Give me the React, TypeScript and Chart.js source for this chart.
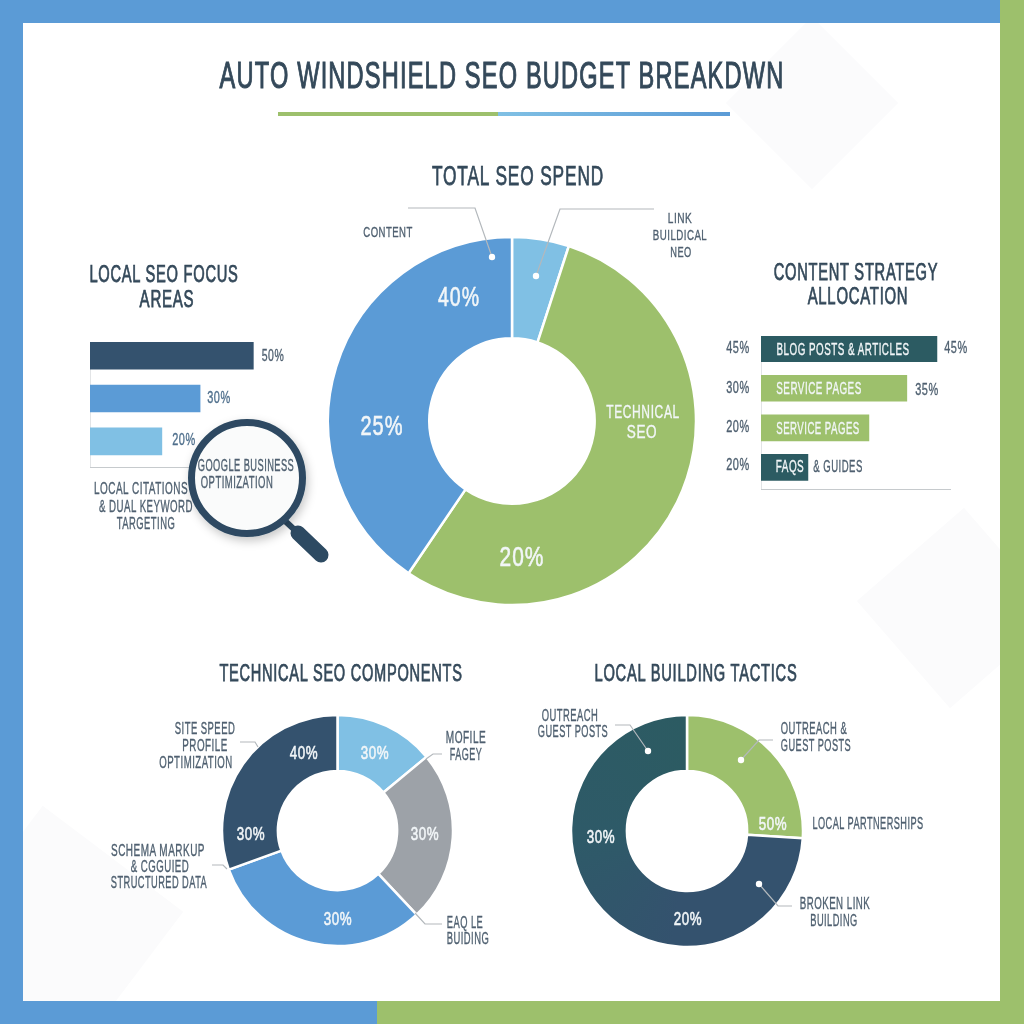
import React, { useEffect, useRef } from "react";
import { Chart, registerables } from "chart.js";

Chart.register(...registerables);

// ---------- data ----------
const spendCategories = ["Link Building", "Technical SEO", "Content"];
const spendShares = [5, 54.5, 40.5];

const technicalCategories = ["Mobile", "FAQ", "Schema Markup", "Site Speed"];
const technicalShares = [14, 24, 31.5, 30.5];

const tacticCategories = ["Outreach & Guest Posts", "Broken Link & Outreach"];
const tacticShares = [26, 74];

const focusCategories = ["Google Business", "Local Citations", "Keyword Targeting"];
const focusBars = [50, 33.7, 22];

const strategyCategories = ["Blog Posts & Articles", "Service Pages", "Service Pages 2", "FAQs & Guides"];
const strategyBars = [45, 37.3, 27.6, 12];

// ---------- palette ----------
const BLUE = "#5b9bd6";
const LIGHT = "#80c0e4";
const GREEN = "#9dc06c";
const NAVY = "#34526e";
const TEAL = "#2c5b62";
const GRAY = "#9da2a8";
const DARK = "#34495a";
const MID = "#4f6070";
const WHITE = "#f2f6f8";
const LINE = "#b3b8bc";

// ---------- text: string, left, right, centre y, font size, colour, stroke ----------
type T = [string, number, number, number, number, string, number?];
const H1 = 1.05;
const H2 = 0.75;
const PCT = 0.6;
const SM = 0.35;
const lowerTexts: T[] = [
  ["AUTO WINDSHIELD SEO BUDGET BREAKDWN", 220, 784, 75, 37, DARK, H1],
  ["TOTAL SEO SPEND", 432, 604, 176, 27, DARK, H2],
  ["CONTENT", 363, 412, 232, 15.5, MID, SM],
  ["LINK", 668, 692, 217.5, 15.5, MID, SM],
  ["BUILDICAL", 653, 707, 235, 15.5, MID, SM],
  ["NEO", 670, 691, 252, 15.5, MID, SM],
  ["40%", 438, 479, 297, 27, WHITE, PCT],
  ["25%", 361, 403, 426, 27, WHITE, PCT],
  ["TECHNICAL", 606, 679, 412, 18, WHITE, SM],
  ["SEO", 627, 657, 432, 18, WHITE, SM],
  ["20%", 500, 544, 557, 27, WHITE, PCT],
  ["LOCAL SEO FOCUS", 89, 238, 274, 23, DARK, H2],
  ["AREAS", 140, 194, 299, 23, DARK, H2],
  ["50%", 262, 284, 356, 16, MID, SM],
  ["30%", 207, 230, 398, 16, "#4f6f8c", SM],
  ["20%", 172, 195, 440, 16, "#4f6f8c", SM],
  ["LOCAL CITATIONS", 94, 188, 489, 16, MID, SM],
  ["& DUAL KEYWORD", 99, 193, 507, 16, MID, SM],
  ["TARGETING", 117, 175, 524, 16, MID, SM],
  ["CONTENT STRATEGY", 774, 938, 272, 23, DARK, H2],
  ["ALLOCATION", 808, 908, 296, 23, DARK, H2],
  ["45%", 726, 749, 348, 16, MID, SM],
  ["30%", 726, 749, 388, 16, MID, SM],
  ["20%", 726, 749, 427, 16, MID, SM],
  ["20%", 726, 749, 465, 16, MID, SM],
  ["45%", 944, 967, 348, 16, MID, SM],
  ["35%", 915, 938, 390, 16, MID, SM],
  ["BLOG POSTS & ARTICLES", 776, 909, 349.5, 16, WHITE, SM],
  ["SERVICE PAGES", 776, 861, 389, 16, WHITE, SM],
  ["SERVICE PAGES", 776, 859, 429, 16, WHITE, SM],
  ["FAQS", 776, 804, 467, 16, WHITE, SM],
  ["& GUIDES", 813, 862, 467, 16, MID, SM],
  ["TECHNICAL SEO COMPONENTS", 219, 462, 673, 23, DARK, H2],
  ["SITE SPEED", 175, 235, 729, 16, MID, SM],
  ["PROFILE", 182, 227, 746, 16, MID, SM],
  ["OPTIMIZATION", 159, 232, 763, 16, MID, SM],
  ["MOFILE", 446, 486, 738, 16, MID, SM],
  ["FAGEY", 450, 482, 755, 16, MID, SM],
  ["SCHEMA MARKUP", 111, 205, 851, 16, MID, SM],
  ["& CGGUIED", 131, 189, 867, 16, MID, SM],
  ["STRUCTURED DATA", 111, 207, 883, 16, MID, SM],
  ["EAQ LE", 447, 483, 923, 16, MID, SM],
  ["BUIDING", 447, 489, 939, 16, MID, SM],
  ["30%", 361, 389, 752, 19, WHITE, PCT],
  ["40%", 290, 318, 752, 19, WHITE, PCT],
  ["30%", 411, 439, 833, 19, WHITE, PCT],
  ["30%", 237, 265, 833, 19, WHITE, PCT],
  ["30%", 324, 352, 918, 19, WHITE, PCT],
  ["LOCAL BUILDING TACTICS", 594, 797, 673, 23, DARK, H2],
  ["OUTREACH", 542, 598, 716, 16, MID, SM],
  ["GUEST POSTS", 538, 608, 732, 16, MID, SM],
  ["OUTREACH &", 781, 847, 729, 16, MID, SM],
  ["GUEST POSTS", 781, 851, 746, 16, MID, SM],
  ["LOCAL PARTNERSHIPS", 812, 923, 824, 16, MID, SM],
  ["BROKEN LINK", 800, 870, 904, 16, MID, SM],
  ["BUILDING", 810, 857, 921, 16, MID, SM],
  ["50%", 759, 787, 823, 19, WHITE, PCT],
  ["30%", 587, 615, 836, 19, WHITE, PCT],
  ["20%", 674, 702, 918, 19, WHITE, PCT],
];
const lensTexts: T[] = [
  ["GOOGLE BUSINESS", 198, 294, 466, 16, MID, SM],
  ["OPTIMIZATION", 201, 273, 483, 16, MID, SM],
];

const leaders: number[][] = [
  [408, 208, 475, 208, 492, 257],
  [654, 209, 560, 209, 536, 276],
  [240, 742, 255, 742, 258, 747],
  [442, 754, 433, 754, 426, 759],
  [415, 913, 425, 924, 442, 924],
  [212, 865, 223, 865, 227, 869],
  [615, 725, 630, 725, 648, 751],
  [773, 740, 759, 740, 741, 760],
  [759, 884, 778, 906, 792, 906],
];
const dots: number[][] = [
  [492, 257], [536, 276], [648, 751], [741, 760], [759, 884],
];

const FONT = '"Liberation Sans Narrow", "Liberation Sans", sans-serif';
const SPACING = 0.05;
const measurer = document.createElement("canvas").getContext("2d")!;

function Label({ t }: { t: T }) {
  const [text, x0, x1, cy, size, color, stroke = 0] = t;
  measurer.font = `400 ${size}px ${FONT}`;
  const natural = measurer.measureText(text).width + SPACING * size * (text.length - 1);
  const s = (x1 - x0) / natural;
  return (
    <span
      style={{
        position: "absolute",
        left: (x0 + x1) / 2,
        top: cy,
        transform: `translate(-50%,-50%) scaleX(${s})`,
        font: `400 ${size}px/1 ${FONT}`,
        letterSpacing: `${SPACING * size}px`,
        marginRight: `${-SPACING * size}px`,
        WebkitTextStroke: `${stroke}px ${color}`,
        color,
        whiteSpace: "nowrap",
      }}
    >
      {text}
    </span>
  );
}

function Donut({
  cx, cy, r, inner, labels, values, colors, conic,
}: {
  cx: number; cy: number; r: number; inner: number; labels: string[]; values: number[]; colors: string[];
  conic?: boolean;
}) {
  const ref = useRef<HTMLCanvasElement>(null);
  const size = 2 * r + 6;
  useEffect(() => {
    const canvas = ref.current!;
    const ctx = canvas.getContext("2d")!;
    const fills: (string | CanvasGradient)[] = [...colors];
    if (conic) {
      const g = ctx.createConicGradient(-Math.PI / 2, size / 2, size / 2);
      g.addColorStop(0, TEAL);
      g.addColorStop(0.25, NAVY);
      g.addColorStop(0.52, NAVY);
      g.addColorStop(0.74, "#2e5a68");
      g.addColorStop(1, TEAL);
      fills[fills.length - 1] = g;
    }
    const chart = new Chart(canvas, {
      type: "doughnut",
      data: { labels, datasets: [{ data: values, backgroundColor: fills as any, borderColor: "#ffffff", borderWidth: 2.5 }] },
      options: {
        animation: false,
        responsive: false,
        radius: r + 1,
        cutout: inner - 1,
        layout: { padding: 0 },
        plugins: { legend: { display: false }, tooltip: { enabled: false } },
      } as any,
    });
    return () => chart.destroy();
  }, []);
  return (
    <canvas
      ref={ref}
      width={size}
      height={size}
      style={{ position: "absolute", left: cx - size / 2, top: cy - size / 2, width: size, height: size }}
    />
  );
}

function Bars({
  left, top, width, height, max, yMin, yMax, thickness, labels, values, colors,
}: {
  left: number; top: number; width: number; height: number; max: number; yMin: number; yMax: number; thickness: number;
  labels: string[]; values: number[]; colors: string[];
}) {
  const ref = useRef<HTMLCanvasElement>(null);
  useEffect(() => {
    const chart = new Chart(ref.current!, {
      type: "bar",
      data: {
        labels,
        datasets: [{ data: values.map((v, i) => ({ x: v, y: i })), backgroundColor: colors, barThickness: thickness }],
      },
      options: {
        indexAxis: "y",
        animation: false,
        responsive: false,
        layout: { padding: 0 },
        plugins: { legend: { display: false }, tooltip: { enabled: false } },
        scales: {
          x: {
            type: "linear", min: 0, max,
            ticks: { display: false },
            grid: { display: false, drawTicks: false },
            border: { display: true, color: "#c6cacd", width: 1.5 },
          },
          y: {
            type: "linear", reverse: true, min: yMin, max: yMax, offset: false,
            ticks: { display: false },
            grid: { display: false, drawTicks: false },
            border: { display: true, color: "#c6cacd", width: 1.5 },
          },
        },
      } as any,
    });
    return () => chart.destroy();
  }, []);
  return (
    <canvas
      ref={ref}
      width={width}
      height={height}
      style={{ position: "absolute", left, top, width, height }}
    />
  );
}

const box = (left: number, top: number, width: number, height: number, background: string): React.CSSProperties => ({
  position: "absolute", left, top, width, height, background,
});
const shape = (cx: number, cy: number, side: number, deg: number): React.CSSProperties => ({
  position: "absolute", left: cx - side / 2, top: cy - side / 2, width: side, height: side,
  background: "#fbfbfc", transform: `rotate(${deg}deg)`,
});

export default function App() {
  useEffect(() => {
    document.body.style.margin = "0";
  }, []);
  return (
    <div style={{ position: "absolute", left: 0, top: 0, width: 1024, height: 1024, overflow: "hidden", background: "#fff" }}>
      <div style={shape(812, 103, 122, 45)} />
      <div style={shape(957, 608, 142, 49)} />
      <div style={shape(59.5, 928.5, 176, 37)} />

      <div style={box(0, 0, 1000, 23, BLUE)} />
      <div style={box(0, 0, 23, 1024, BLUE)} />
      <div style={box(1000, 0, 24, 1024, GREEN)} />
      <div style={box(0, 1001, 377, 23, BLUE)} />
      <div style={box(377, 1001, 647, 23, GREEN)} />

      <div style={box(278, 112, 220, 4, GREEN)} />
      <div style={box(498, 112, 232, 4, `linear-gradient(90deg,${LIGHT},${BLUE})`)} />

      <Donut cx={511.5} cy={420.5} r={183} inner={84} labels={spendCategories} values={spendShares} colors={[LIGHT, GREEN, BLUE]} />
      <Donut cx={337.5} cy={830.5} r={114.5} inner={61} labels={technicalCategories} values={technicalShares} colors={[LIGHT, GRAY, BLUE, NAVY]} />
      <Donut cx={687} cy={830.5} r={115} inner={61.5} labels={tacticCategories} values={tacticShares} colors={[GREEN, NAVY]} conic />

      <Bars left={90} top={342} width={196} height={126} max={60} yMin={-0.318} yMax={2.62} thickness={27} labels={focusCategories} values={focusBars} colors={[NAVY, BLUE, LIGHT]} />
      <Bars left={761} top={336} width={190} height={154} max={48.6} yMin={-0.32} yMax={3.57} thickness={26} labels={strategyCategories} values={strategyBars} colors={[TEAL, GREEN, GREEN, TEAL]} />

      <svg width={1024} height={1024} style={{ position: "absolute", left: 0, top: 0 }}>
        {leaders.map((p, i) => (
          <polyline key={i} points={p.join(" ")} fill="none" stroke={LINE} strokeWidth={1.2} />
        ))}
        {dots.map((d, i) => (
          <circle key={i} cx={d[0]} cy={d[1]} r={3.2} fill="#fff" />
        ))}
      </svg>

      {lowerTexts.map((t, i) => (
        <Label key={i} t={t} />
      ))}

      <svg width={1024} height={1024} style={{ position: "absolute", left: 0, top: 0 }}>
        <defs>
          <filter id="sh" x="-30%" y="-30%" width="160%" height="160%">
            <feDropShadow dx="2" dy="4" stdDeviation="5" floodColor="#000" floodOpacity="0.22" />
          </filter>
        </defs>
        <line x1={283} y1={519} x2={298} y2={533} stroke="#2d4a62" strokeWidth={6} />
        <line x1={298} y1={533} x2={321} y2={555} stroke="#2d4a62" strokeWidth={15} strokeLinecap="round" />
        <circle cx={247} cy={478} r={55.5} fill="#fafbfb" stroke="#2d4a62" strokeWidth={7} filter="url(#sh)" />
      </svg>

      {lensTexts.map((t, i) => (
        <Label key={i} t={t} />
      ))}
    </div>
  );
}
